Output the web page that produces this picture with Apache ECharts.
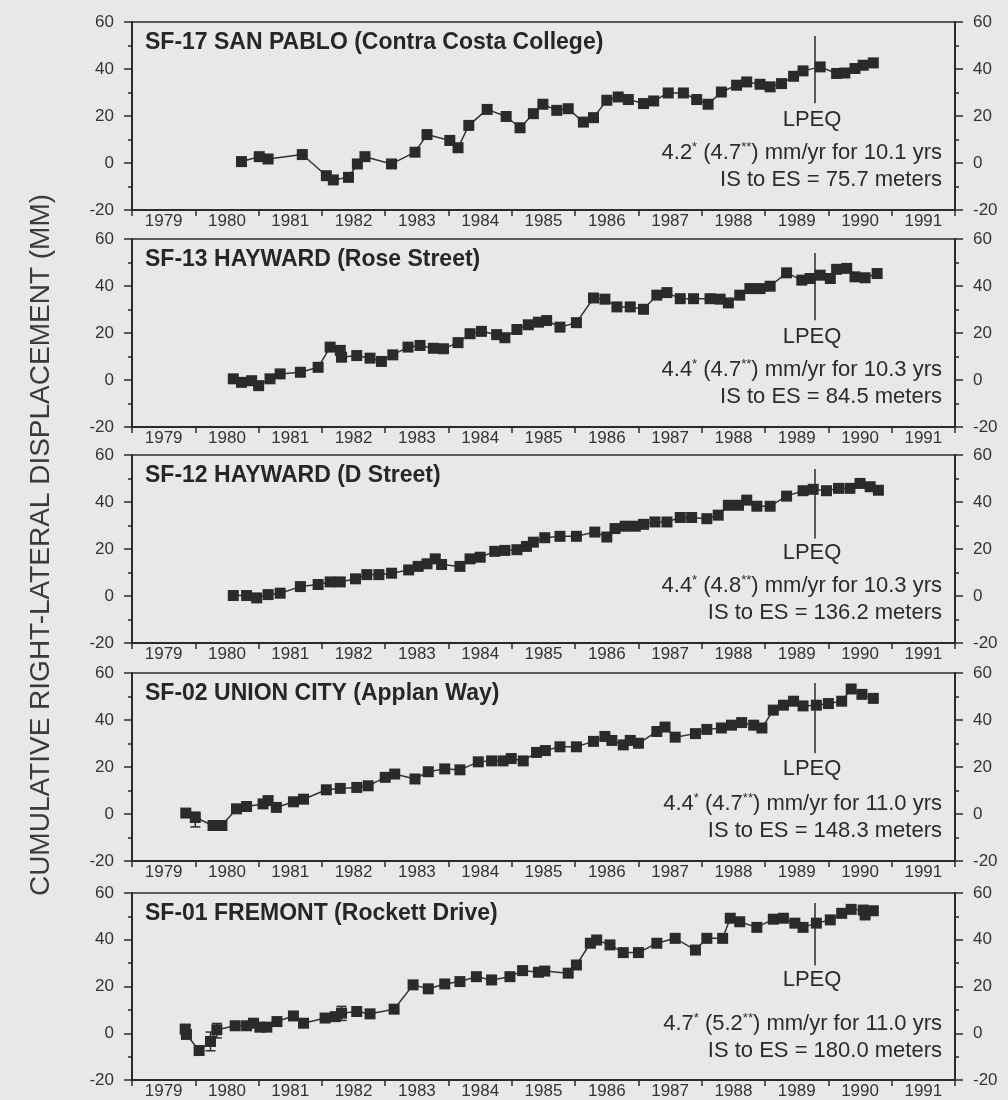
<!DOCTYPE html>
<html>
<head>
<meta charset="utf-8">
<script src="https://cdn.jsdelivr.net/npm/echarts@6/dist/echarts.min.js"></script>
<style>
  html, body { margin: 0; padding: 0; background: #e8e9e7; }
  #chart { width: 1008px; height: 1100px; }
</style>
</head>
<body>
<div id="chart"></div>
<script>
// tick labels
const years = ['1979', '1980', '1981', '1982', '1983', '1984', '1985', '1986', '1987', '1988', '1989', '1990', '1991'];

// station names and notes
const stationTitles = [
  'SF-17 SAN PABLO (Contra Costa College)',
  'SF-13 HAYWARD (Rose Street)',
  'SF-12 HAYWARD (D Street)',
  'SF-02 UNION CITY (Applan Way)',
  'SF-01 FREMONT (Rockett Drive)',
];
// [rate*, rate**, years]
const rateNotes = [
  ['4.2', '4.7', '10.1'],
  ['4.4', '4.7', '10.3'],
  ['4.4', '4.8', '10.3'],
  ['4.4', '4.7', '11.0'],
  ['4.7', '5.2', '11.0'],
];
const esNotes = [
  'IS to ES = 75.7 meters',
  'IS to ES = 84.5 meters',
  'IS to ES = 136.2 meters',
  'IS to ES = 148.3 meters',
  'IS to ES = 180.0 meters',
];

// Loma Prieta earthquake marker (year, top, bottom in mm)
const lpeqYear = 1989.78;
const lpeqTop = [54, 54, 54, 55.7, 55.7];
const lpeqBottom = [25.4, 25.4, 24.5, 25.8, 29];

// [decimal year, cumulative displacement mm]
const sf17 = [
  [1980.73, 0.6], [1981.01, 2.7], [1981.15, 1.7], [1981.69, 3.6], [1982.07, -5.4], [1982.18, -7.2],
  [1982.42, -6.1], [1982.56, -0.4], [1982.68, 2.7], [1983.10, -0.4], [1983.47, 4.6], [1983.66, 12.1],
  [1984.02, 9.6], [1984.15, 6.5], [1984.32, 16.0], [1984.61, 22.8], [1984.91, 19.8], [1985.13, 15.0],
  [1985.34, 21.0], [1985.49, 25.0], [1985.71, 22.4], [1985.89, 23.1], [1986.13, 17.4], [1986.29, 19.3],
  [1986.50, 26.7], [1986.68, 28.1], [1986.84, 27.0], [1987.08, 25.3], [1987.24, 26.4], [1987.47, 29.8],
  [1987.71, 29.8], [1987.92, 27.0], [1988.10, 25.0], [1988.31, 30.2], [1988.55, 33.1], [1988.71, 34.5],
  [1988.92, 33.5], [1989.08, 32.4], [1989.26, 33.8], [1989.45, 36.9], [1989.60, 39.2], [1989.87, 40.9],
  [1990.13, 38.1], [1990.26, 38.3], [1990.42, 40.2], [1990.55, 41.6], [1990.71, 42.6],
];
const sf13 = [
  [1980.60, 0.5], [1980.73, -1.0], [1980.89, -0.3], [1981.00, -2.4], [1981.18, 0.5], [1981.34, 2.6],
  [1981.66, 3.3], [1981.94, 5.4], [1982.13, 14.0], [1982.29, 12.6], [1982.31, 9.7], [1982.55, 10.4],
  [1982.76, 9.3], [1982.94, 7.9], [1983.12, 10.7], [1983.36, 14.0], [1983.55, 14.7], [1983.76, 13.5],
  [1983.92, 13.3], [1984.15, 15.9], [1984.34, 19.7], [1984.52, 20.7], [1984.76, 19.3], [1984.89, 18.0],
  [1985.08, 21.5], [1985.26, 23.5], [1985.42, 24.6], [1985.55, 25.3], [1985.76, 22.5], [1986.02, 24.4],
  [1986.29, 34.9], [1986.47, 34.4], [1986.66, 31.1], [1986.87, 31.1], [1987.08, 30.1], [1987.29, 36.1],
  [1987.45, 37.2], [1987.66, 34.6], [1987.87, 34.6], [1988.13, 34.6], [1988.29, 34.4], [1988.42, 32.8],
  [1988.60, 36.1], [1988.76, 38.9], [1988.92, 38.9], [1989.08, 39.9], [1989.34, 45.6], [1989.58, 42.5],
  [1989.71, 43.2], [1989.87, 44.6], [1990.03, 43.2], [1990.13, 47.1], [1990.29, 47.5], [1990.42, 43.9],
  [1990.58, 43.5], [1990.77, 45.3],
];
const sf12 = [
  [1980.60, 0.2], [1980.81, 0.2], [1980.97, -0.8], [1981.15, 0.6], [1981.34, 1.2], [1981.66, 4.0],
  [1981.94, 4.9], [1982.13, 6.0], [1982.29, 6.0], [1982.53, 7.3], [1982.71, 9.1], [1982.90, 9.1],
  [1983.10, 9.7], [1983.37, 11.1], [1983.52, 12.6], [1983.66, 13.7], [1983.79, 15.8], [1983.89, 13.4],
  [1984.18, 12.6], [1984.34, 15.8], [1984.50, 16.5], [1984.73, 19.0], [1984.89, 19.4], [1985.08, 19.7],
  [1985.23, 21.1], [1985.34, 22.9], [1985.52, 24.8], [1985.76, 25.4], [1986.02, 25.4], [1986.31, 27.2],
  [1986.50, 25.1], [1986.63, 28.7], [1986.79, 29.7], [1986.95, 29.7], [1987.08, 30.5], [1987.26, 31.5],
  [1987.45, 31.5], [1987.66, 33.4], [1987.84, 33.4], [1988.08, 32.9], [1988.26, 34.4], [1988.42, 38.6],
  [1988.58, 38.6], [1988.71, 40.8], [1988.87, 38.2], [1989.08, 38.2], [1989.34, 42.5], [1989.60, 44.8],
  [1989.76, 45.4], [1989.97, 44.8], [1990.16, 45.8], [1990.34, 45.8], [1990.50, 47.9], [1990.66, 46.5],
  [1990.79, 45.0],
];
const sf02 = [
  [1979.85, 0.4], [1980.00, -1.5], [1980.28, -4.9], [1980.42, -4.9], [1980.65, 2.2], [1980.81, 3.2],
  [1981.07, 4.3], [1981.15, 5.7], [1981.28, 2.8], [1981.55, 5.2], [1981.71, 6.3], [1982.07, 10.3],
  [1982.29, 10.9], [1982.55, 11.3], [1982.73, 12.0], [1983.00, 15.6], [1983.15, 17.0], [1983.47, 14.9],
  [1983.68, 18.0], [1983.94, 19.2], [1984.18, 18.8], [1984.47, 22.2], [1984.68, 22.6], [1984.86, 22.6],
  [1984.99, 23.6], [1985.18, 22.6], [1985.39, 26.2], [1985.53, 27.0], [1985.76, 28.6], [1986.02, 28.6],
  [1986.29, 30.9], [1986.47, 33.0], [1986.58, 31.3], [1986.76, 29.4], [1986.87, 31.3], [1987.00, 30.1],
  [1987.29, 35.1], [1987.42, 37.0], [1987.58, 32.7], [1987.90, 34.2], [1988.08, 36.0], [1988.31, 36.6],
  [1988.47, 37.8], [1988.63, 38.9], [1988.82, 37.8], [1988.95, 36.6], [1989.13, 44.2], [1989.29, 46.3],
  [1989.45, 48.0], [1989.60, 46.0], [1989.81, 46.3], [1990.00, 47.0], [1990.21, 48.0], [1990.36, 53.2],
  [1990.53, 50.9], [1990.71, 49.2],
];
const sf01 = [
  [1979.84, 1.8], [1979.86, -0.5], [1980.06, -7.4], [1980.24, -3.5], [1980.34, 1.5], [1980.63, 3.2],
  [1980.81, 3.2], [1980.92, 4.3], [1981.02, 2.6], [1981.13, 2.6], [1981.29, 5.0], [1981.55, 7.4],
  [1981.71, 4.3], [1982.05, 6.5], [1982.21, 7.1], [1982.31, 8.6], [1982.55, 9.3], [1982.76, 8.3],
  [1983.14, 10.3], [1983.44, 20.7], [1983.68, 19.0], [1983.94, 21.1], [1984.18, 22.1], [1984.44, 24.2],
  [1984.68, 22.8], [1984.97, 24.2], [1985.17, 26.8], [1985.42, 26.1], [1985.52, 26.6], [1985.89, 25.7],
  [1986.02, 29.2], [1986.24, 38.5], [1986.34, 39.9], [1986.55, 37.8], [1986.76, 34.5], [1987.00, 34.5],
  [1987.29, 38.5], [1987.58, 40.6], [1987.90, 35.6], [1988.08, 40.6], [1988.33, 40.6], [1988.45, 49.2],
  [1988.60, 47.7], [1988.87, 45.3], [1989.13, 48.8], [1989.29, 49.2], [1989.47, 47.1], [1989.60, 45.3],
  [1989.81, 47.1], [1990.03, 48.5], [1990.21, 51.3], [1990.36, 53.0], [1990.55, 52.7], [1990.58, 50.6],
  [1990.71, 52.4],
];

// error bars: [year, low, high]
const errSf02 = [[1980.00, -5.5, 0.8]];
const errSf01 = [[1979.85, -1.5, 3.5], [1980.24, -7.5, 0.5], [1980.34, -2.0, 4.2], [1982.31, 5.5, 11.5]];

const stations = [sf17, sf13, sf12, sf02, sf01];
const errors = [[], [], [], errSf02, errSf01];

const INK = '#2b2b2b';
const FONT = '"Liberation Sans", Arial, Helvetica, sans-serif';
const gridTops = [22, 239, 455, 673, 893];
const gridH = 188;
const gridLeft = 132;
const gridRight = 53;
const lpeqTextOffset = [98, 98, 98, 96, 87];

const grids = [];
const xAxes = [];
const yAxes = [];
const series = [];
const graphics = [];

stations.forEach((data, i) => {
  const top = gridTops[i];
  grids.push({
    left: gridLeft, right: gridRight, top, height: gridH,
    show: true, borderColor: INK, borderWidth: 1.5, backgroundColor: 'transparent',
  });
  // value axis for the data
  xAxes.push({
    type: 'value', gridIndex: i, min: 1979, max: 1992, show: false,
  });
  // category axis, year labels sit between the ticks
  xAxes.push({
    type: 'category', gridIndex: i, data: years, position: 'bottom', boundaryGap: true,
    axisLine: { show: true, onZero: false, lineStyle: { color: INK, width: 2 } },
    axisTick: { show: true, length: 6, lineStyle: { color: INK, width: 1.5 } },
    axisLabel: { fontSize: 17, margin: 3, color: '#333', fontFamily: FONT },
    splitLine: { show: false },
  });
  ['left', 'right'].forEach((pos) => {
    yAxes.push({
      type: 'value', gridIndex: i, position: pos, min: -20, max: 60, interval: 20,
      axisLine: { show: true, onZero: false, lineStyle: { color: INK, width: 2 } },
      axisTick: { show: true, length: 8, lineStyle: { color: INK, width: 1.5 } },
      minorTick: { show: true, splitNumber: 2, length: 4, lineStyle: { color: INK, width: 1.5 } },
      axisLabel: { fontSize: 17, margin: 18, color: '#333', fontFamily: FONT },
      splitLine: { show: false },
      minorSplitLine: { show: false },
    });
  });

  series.push({
    type: 'line',
    xAxisIndex: 2 * i,
    yAxisIndex: 2 * i,
    data,
    symbol: 'rect',
    symbolSize: 11,
    showSymbol: true,
    itemStyle: { color: '#2a2a2a' },
    lineStyle: { color: '#333', width: 1.5 },
    animation: false,
    markLine: {
      silent: true,
      symbol: 'none',
      label: { show: false },
      lineStyle: { color: INK, width: 1.5, type: 'solid' },
      data: [[{ coord: [lpeqYear, lpeqTop[i]] }, { coord: [lpeqYear, lpeqBottom[i]] }]],
    },
  });

  if (errors[i].length) {
    series.push({
      type: 'custom',
      xAxisIndex: 2 * i,
      yAxisIndex: 2 * i,
      data: errors[i],
      z: 1,
      animation: false,
      renderItem(params, api) {
        const lo = api.coord([api.value(0), api.value(1)]);
        const hi = api.coord([api.value(0), api.value(2)]);
        const w = 5;
        const style = { stroke: '#2e2e2e', lineWidth: 1.5 };
        return {
          type: 'group',
          children: [
            { type: 'line', shape: { x1: lo[0], y1: lo[1], x2: hi[0], y2: hi[1] }, style },
            { type: 'line', shape: { x1: lo[0] - w, y1: lo[1], x2: lo[0] + w, y2: lo[1] }, style },
            { type: 'line', shape: { x1: hi[0] - w, y1: hi[1], x2: hi[0] + w, y2: hi[1] }, style },
          ],
        };
      },
    });
  }

  // panel title and notes
  graphics.push({
    type: 'text', x: 145, y: top + 21,
    style: {
      text: stationTitles[i], fill: '#262626', font: `bold 23px ${FONT}`,
      align: 'left', verticalAlign: 'middle', textAlign: 'left', textVerticalAlign: 'middle',
    },
  });
  graphics.push({
    type: 'text', x: 812, y: top + lpeqTextOffset[i],
    style: {
      text: 'LPEQ', fill: '#2b2b2b', font: `22px ${FONT}`,
      align: 'center', verticalAlign: 'middle', textAlign: 'center', textVerticalAlign: 'middle',
    },
  });
  const [r1, r2, yrs] = rateNotes[i];
  graphics.push({
    type: 'text', x: 942, y: top + 131,
    style: {
      text: `{a|${r1}}{s|*}{a| (${r2}}{s|**}{a|) mm/yr for ${yrs} yrs}`,
      fill: '#2b2b2b', font: `22px ${FONT}`,
      align: 'right', verticalAlign: 'middle', textAlign: 'right', textVerticalAlign: 'middle',
      rich: {
        a: { fontSize: 22, fontFamily: FONT, fill: '#2b2b2b', lineHeight: 24 },
        s: { fontSize: 13, fontFamily: FONT, fill: '#2b2b2b', lineHeight: 24, verticalAlign: 'top' },
      },
    },
  });
  graphics.push({
    type: 'text', x: 942, y: top + 158,
    style: {
      text: esNotes[i], fill: '#2b2b2b', font: `22px ${FONT}`,
      align: 'right', verticalAlign: 'middle', textAlign: 'right', textVerticalAlign: 'middle',
    },
  });
});

// shared y axis title
graphics.push({
  type: 'text', x: 41, y: 545, rotation: Math.PI / 2,
  style: {
    text: 'CUMULATIVE RIGHT-LATERAL DISPLACEMENT (MM)', fill: '#3a3a3a', font: `28px ${FONT}`,
    align: 'center', verticalAlign: 'middle', textAlign: 'center', textVerticalAlign: 'middle',
  },
});

const myChart = echarts.init(document.getElementById('chart'));
myChart.setOption({
  backgroundColor: '#e8e9e7',
  animation: false,
  grid: grids,
  xAxis: xAxes,
  yAxis: yAxes,
  series,
  graphic: graphics,
});
</script>
</body>
</html>
